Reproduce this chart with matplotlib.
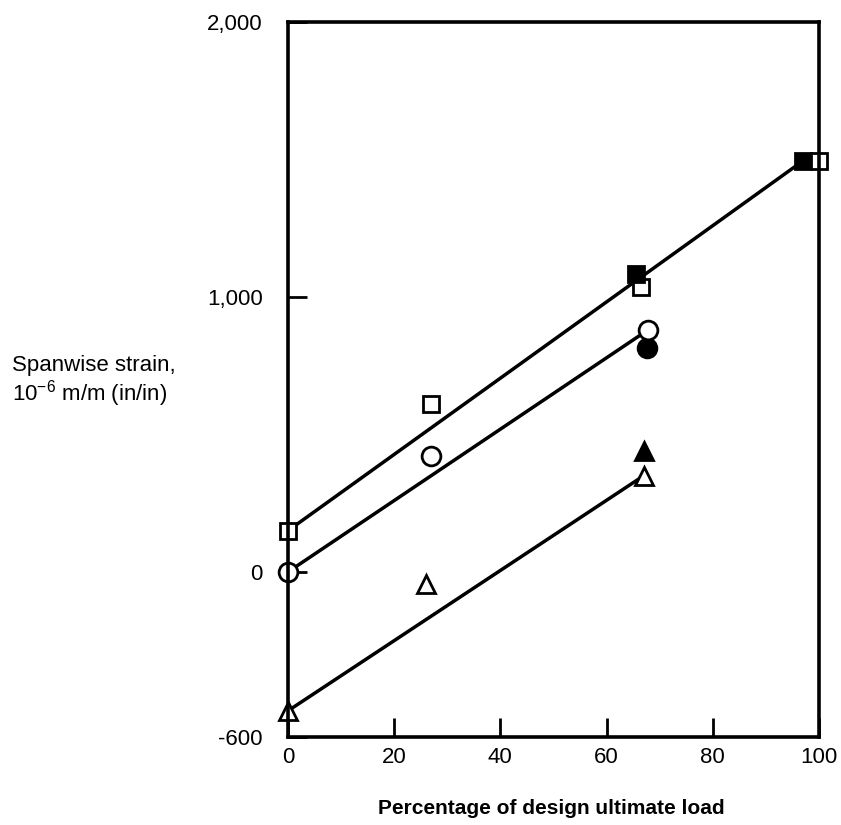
import matplotlib
matplotlib.use('Agg')
import matplotlib.pyplot as plt

plt.rcParams['font.family'] = ['Liberation Sans', 'DejaVu Sans']
plt.rcParams['mathtext.default'] = 'regular'

# values (x = % of design ultimate load, y = strain 1e-6)
open_sq_x = [0, 27, 66.5, 100]
open_sq_y = [150, 610, 1035, 1495]
filled_sq_x = [65.5, 97]
filled_sq_y = [1085, 1495]

open_circ_x = [0, 27, 67.8]
open_circ_y = [0, 420, 880]
filled_circ_x = [67.6]
filled_circ_y = [815]

open_tri_x = [0, 26, 67]
open_tri_y = [-505, -45, 350]
filled_tri_x = [67]
filled_tri_y = [440]

# faired lines
sq_line_x = [0, 97]
sq_line_y = [150, 1495]
circ_line_x = [0, 67.8]
circ_line_y = [0, 880]
tri_line_x = [0, 67]
tri_line_y = [-505, 350]

x_ticks = [0, 20, 40, 60, 80, 100]
y_ticks = [-600, 0, 1000, 2000]
y_tick_labels = ['-600', '0', '1,000', '2,000']

fig = plt.figure(figsize=(8.41, 8.25), dpi=100)
ax = fig.add_axes([0.3424, 0.1067, 0.6314, 0.8667])

lw = 2.5
for lx, ly in [(sq_line_x, sq_line_y), (circ_line_x, circ_line_y), (tri_line_x, tri_line_y)]:
    ax.plot(lx, ly, color='black', lw=lw, zorder=2, clip_on=False)

mk = dict(color='black', linestyle='none', clip_on=False, markeredgewidth=2.0)
ax.plot(open_sq_x[:3], open_sq_y[:3], marker='s', markersize=12, markerfacecolor='white', zorder=3, **mk)
ax.plot(filled_sq_x, filled_sq_y, marker='s', markersize=12, markerfacecolor='black', zorder=4, **mk)
ax.plot(open_sq_x[3:], open_sq_y[3:], marker='s', markersize=12, markerfacecolor='white', zorder=5, **mk)
ax.plot(filled_circ_x, filled_circ_y, marker='o', markersize=13.5, markerfacecolor='black', zorder=3, **mk)
ax.plot(open_circ_x, open_circ_y, marker='o', markersize=13.5, markerfacecolor='white', zorder=4, **mk)
ax.plot(filled_tri_x, filled_tri_y, marker='^', markersize=13, markerfacecolor='black', zorder=3, **mk)
ax.plot(open_tri_x, open_tri_y, marker='^', markersize=13, markerfacecolor='white', zorder=4, **mk)

ax.set_xlim(0, 100)
ax.set_ylim(-600, 2000)
ax.set_xticks(x_ticks)
ax.set_xticklabels([str(v) for v in x_ticks])
ax.set_yticks(y_ticks)
ax.set_yticklabels(y_tick_labels)

for s in ax.spines.values():
    s.set_linewidth(2.6)
    s.set_zorder(6)
ax.tick_params(axis='both', direction='in', length=14, width=2.0, labelsize=16)
ax.tick_params(axis='y', pad=18)
ax.tick_params(axis='x', pad=7)

fig.text(12 / 841, 1 - 366 / 825, 'Spanwise strain,', fontsize=16, ha='left', va='center')
fig.text(12 / 841, 1 - 394 / 825, r'10$^{-6}$ m/m (in/in)', fontsize=16, ha='left', va='center')

fig.text(551 / 841, 1 - 808 / 825, 'Percentage of design ultimate load', fontsize=15,
         fontweight='bold', ha='center', va='center')

fig.savefig('out.png', dpi=100)
